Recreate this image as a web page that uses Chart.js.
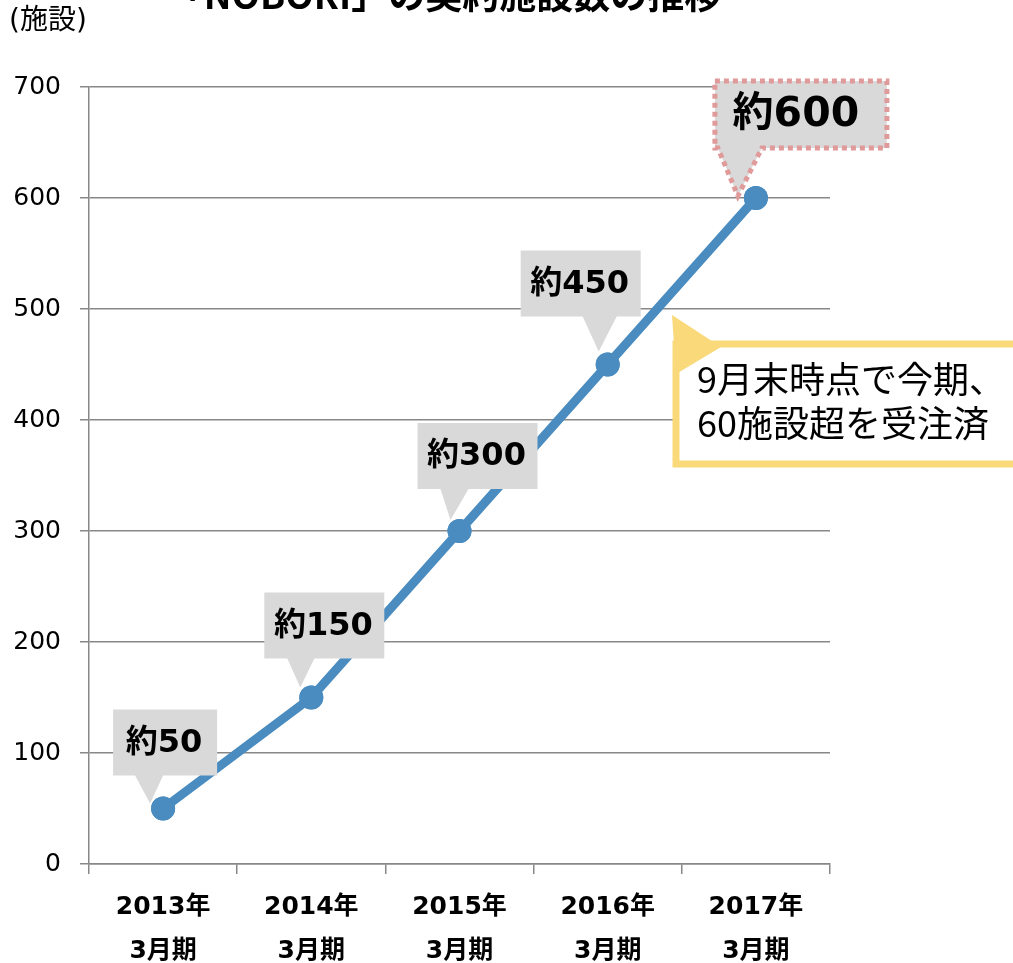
<!DOCTYPE html>
<html><head><meta charset="utf-8">
<script src="https://cdn.jsdelivr.net/npm/chart.js@4.4.1/dist/chart.umd.min.js"></script>
<style>html,body{margin:0;padding:0;background:#fff;}#wrap{width:1013px;height:963px;}</style>
</head><body><div id="wrap"><canvas id="c" width="1013" height="963"></canvas></div>
<script>
const chartTitle = "「NOBORI」の契約施設数の推移";
const yAxisTitle = "(施設)";
const categories = [["2013年","3月期"],["2014年","3月期"],["2015年","3月期"],["2016年","3月期"],["2017年","3月期"]];
const values = [50, 150, 300, 450, 600];
const pointLabels = ["約50", "約150", "約300", "約450", "約600"];
const yMin = 0, yMax = 700, yStep = 100;
const noteLines = ["9月末時点で今期、", "60施設超を受注済"];

const FONT = '"DejaVu Sans", "Noto Sans CJK JP", sans-serif';
const CJK = '"Noto Sans CJK JP", sans-serif';
// callout box styles relative to their point (pixels)
const boxStyles = [
  {dx:2,  bottom:-33, w:104, h:66, b0:-28, b1:0,  tx:-13, ty:-5,  size:32, shift:-1},
  {dx:13, bottom:-39, w:120, h:66, b0:-24, b1:3,  tx:-11, ty:-10, size:32, shift:-1},
  {dx:18, bottom:-42, w:120, h:66, b0:-19, b1:9,  tx:-9,  ty:-11, size:32, shift:-1},
  {dx:-27,bottom:-48, w:120, h:66, b0:-25, b1:9,  tx:-9,  ty:-13, size:32, shift:-1},
  {dx:45, bottom:-50, w:172, h:67, b0:-38, b1:6,  tx:-18, ty:-2,  size:41, shift:-5, dashed:true}
];

const annot = {
  id: 'annot',
  beforeDraw(chart) {
    const ctx = chart.ctx;
    ctx.save();
    ctx.fillStyle = '#000';
    ctx.font = 'bold 37px ' + CJK;
    ctx.textAlign = 'center';
    ctx.textBaseline = 'alphabetic';
    ctx.fillText(chartTitle, 444, 9);
    ctx.font = '28px ' + FONT;
    ctx.textAlign = 'left';
    ctx.textBaseline = 'middle';
    ctx.fillText(yAxisTitle, 9, 22);
    ctx.restore();
  },
  afterDatasetsDraw(chart) {
    const ctx = chart.ctx;
    const meta = chart.getDatasetMeta(0);
    const ys = chart.scales.y;
    ctx.save();
    meta.data.forEach((pt, i) => {
      const s = boxStyles[i];
      const px = pt.x, py = pt.y;
      const L = px + s.dx - s.w/2, R = px + s.dx + s.w/2;
      const B = py + s.bottom, T = B - s.h;
      ctx.beginPath();
      ctx.moveTo(L, T); ctx.lineTo(R, T); ctx.lineTo(R, B);
      ctx.lineTo(px + s.b1, B); ctx.lineTo(px + s.tx, py + s.ty); ctx.lineTo(px + s.b0, B);
      ctx.lineTo(L, B); ctx.closePath();
      ctx.fillStyle = '#d9d9d9';
      ctx.fill();
      if (s.dashed) {
        ctx.strokeStyle = '#e09a9a';
        ctx.lineWidth = 5;
        ctx.setLineDash([5, 4]);
        ctx.stroke();
        ctx.setLineDash([]);
      }
      ctx.fillStyle = '#000';
      ctx.font = 'bold ' + s.size + 'px ' + FONT;
      ctx.textAlign = 'center';
      ctx.textBaseline = 'middle';
      ctx.fillText(pointLabels[i], (L + R)/2 + s.shift, (T + B)/2 + 1);
    });
    // redraw markers on top
    meta.data.forEach(p => p.draw(ctx, chart.chartArea));

    // yellow note callout
    const ca = chart.chartArea;
    const nL = ca.right - 154, nT = ys.getPixelForValue(500) + 35, nB = nT + 120;
    ctx.fillStyle = '#fff';
    ctx.fillRect(nL, nT, 400, nB - nT);
    ctx.strokeStyle = '#f9d97a';
    ctx.lineWidth = 7;
    ctx.strokeRect(nL, nT, 400, nB - nT);
    ctx.beginPath();
    ctx.moveTo(nL - 4, nT - 29);
    ctx.lineTo(nL + 45, nT + 3);
    ctx.lineTo(nL, nT + 30);
    ctx.closePath();
    ctx.fillStyle = '#f9d97a';
    ctx.fill();
    ctx.fillStyle = '#000';
    ctx.font = '36px ' + CJK;
    ctx.textAlign = 'left';
    ctx.textBaseline = 'middle';
    noteLines.forEach((t, i) => ctx.fillText(t, nL + 21, nT + 35 + i * 44));
    ctx.restore();
  }
};

new Chart(document.getElementById('c'), {
  type: 'line',
  data: {
    labels: categories,
    datasets: [{
      data: values,
      borderColor: '#4a8cc0',
      backgroundColor: '#4a8cc0',
      borderWidth: 9,
      pointRadius: 12,
      pointHoverRadius: 12,
      pointBackgroundColor: '#4a8cc0',
      pointBorderWidth: 0,
      tension: 0
    }]
  },
  options: {
    responsive: false,
    animation: false,
    devicePixelRatio: 1,
    layout: { padding: { top: 87, right: 183, bottom: 0, left: 0 } },
    plugins: { legend: { display: false }, tooltip: { enabled: false }, title: { display: false } },
    scales: {
      x: {
        offset: true,
        grid: { display: true, drawOnChartArea: false, drawTicks: true, tickLength: 10, color: '#888', lineWidth: 1.5, offset: true },
        border: { display: true, color: '#888', width: 1.5 },
        ticks: { color: '#000', font: { family: FONT, size: 25, weight: 'bold', lineHeight: 44/25 }, padding: 11, maxRotation: 0, autoSkip: false },
        afterFit(s) { s.height = 99; }
      },
      y: {
        min: yMin, max: yMax,
        grid: { color: '#888', lineWidth: 1.5, tickLength: 9, drawTicks: true },
        border: { display: true, color: '#888', width: 1.5 },
        ticks: { stepSize: yStep, color: '#000', font: { family: FONT, size: 25 }, padding: 19 },
        afterFit(s) { s.width = 89; }
      }
    }
  },
  plugins: [annot]
});
</script>
</body></html>
